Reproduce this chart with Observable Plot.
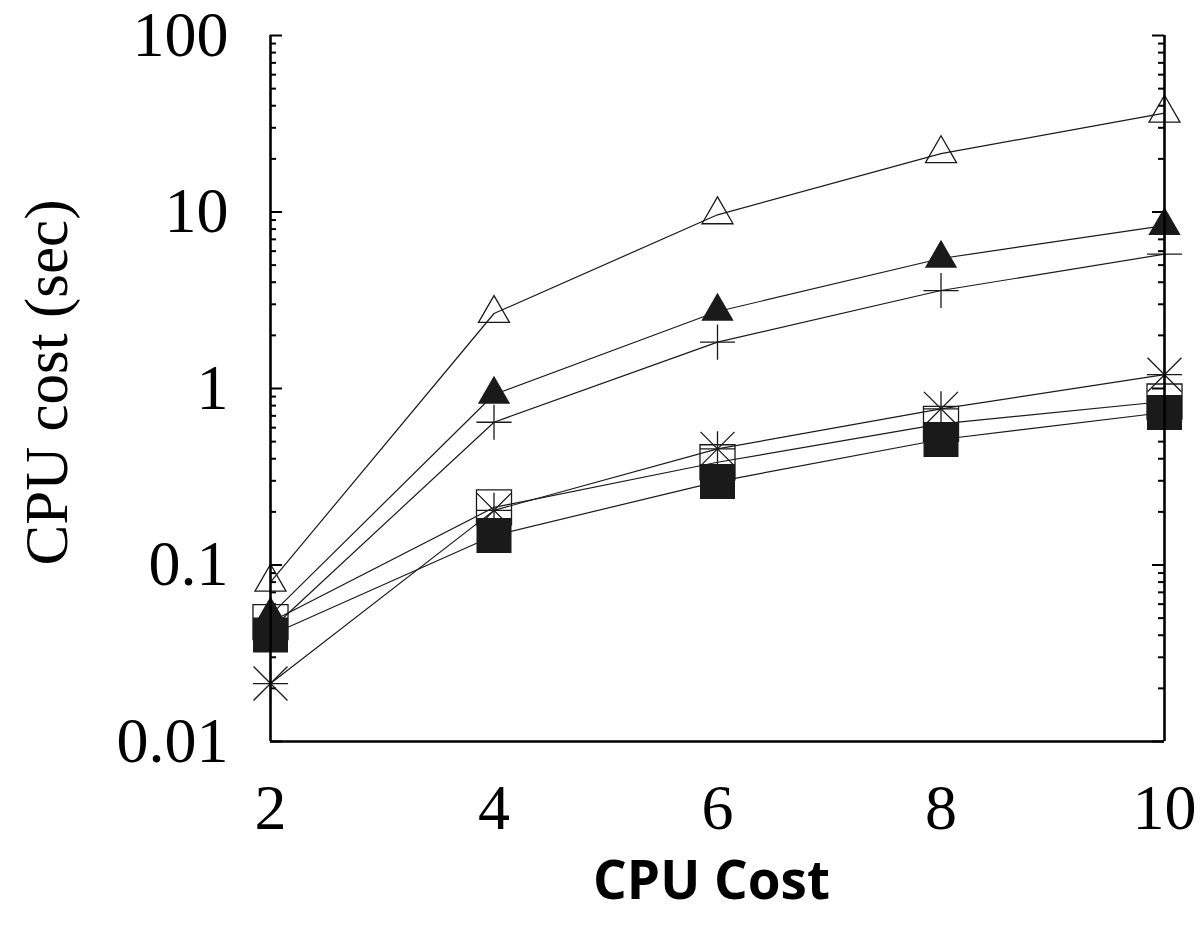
<!DOCTYPE html>
<html><head><meta charset="utf-8">
<script src="https://cdn.jsdelivr.net/npm/d3@7"></script>
<script src="https://cdn.jsdelivr.net/npm/@observablehq/plot@0.6"></script>
<style>html,body{margin:0;padding:0;background:#fff;}</style>
</head><body><div id="chart"></div>
<script>
// ---- data ----
const xValues = [2, 4, 6, 8, 10];
const openTriangle   = [0.080, 2.66, 9.64, 21.4, 36.3];
const filledTriangle = [0.052, 0.925, 2.73, 5.45, 8.38];
const plusSeries     = [0.043, 0.644, 1.83, 3.59, 5.77];
const starSeries     = [0.0213, 0.204, 0.455, 0.767, 1.197];
const openSquare     = [0.0475, 0.212, 0.382, 0.63, 0.844];
const filledSquare   = [0.0401, 0.147, 0.297, 0.514, 0.731];
const yTickValues = [0.01, 0.1, 1, 10, 100];
const yTickLabels = ["0.01", "0.1", "1", "10", "100"];
const xTickLabels = ["2", "4", "6", "8", "10"];
const yAxisLabel = "CPU cost (sec)";
const xAxisLabel = "CPU Cost";

// ---- layout ----
const W = 1204, H = 940, ML = 270, MR = 40, MT = 35, MB = 199;
const PW = W - ML - MR;
const INK = "#1a1a1a";
const SERIF = "'Liberation Serif', 'Times New Roman', serif";

const minorTicks = [];
for (const dec of [0.01, 0.1, 1, 10]) for (let k = 2; k <= 9; k++) minorTicks.push(+(dec * k).toPrecision(3));

const toRows = (vals) => xValues.map((x, i) => ({x, y: vals[i]}));

const series = [
  {vals: openTriangle, dots: [{symbol: "triangle2", r: 14.8, fill: "none"}]},
  {vals: plusSeries, dots: [{symbol: "plus", r: 11.35, fill: "none"}]},
  {vals: starSeries, dots: [{symbol: "plus", r: 11.35, fill: "none"}, {symbol: "times", r: 15.5, fill: "none"}]},
  {vals: openSquare, dots: [{symbol: "square2", r: 22.3, fill: "none"}]},
  {vals: filledTriangle, dots: [{symbol: "triangle", r: 12.0, fill: INK}]},
  {vals: filledSquare, dots: [{symbol: "square", r: 19.75, fill: INK}]}
];

const seriesMarks = series.flatMap(s => {
  const rows = toRows(s.vals);
  return [
    Plot.line(rows, {x: "x", y: "y", stroke: INK, strokeWidth: 1.2}),
    ...s.dots.map(d => Plot.dot(rows, {
      x: "x", y: "y", symbol: () => d.symbol, r: d.r,
      fill: d.fill, stroke: d.fill === "none" ? INK : "none", strokeWidth: 1.3
    }))
  ];
});

const chart = Plot.plot({
  width: W, height: H,
  marginLeft: ML, marginRight: MR, marginTop: MT, marginBottom: MB,
  x: {domain: [2, 10], axis: null},
  y: {type: "log", domain: [0.01, 100], axis: null},
  symbol: {type: "identity"},
  style: {fontFamily: SERIF, background: "white", color: "black"},
  marks: [
    // inward ticks on left and right borders
    Plot.tickY(yTickValues, {y: d => d, insetRight: PW - 12, stroke: "black", strokeWidth: 2}),
    Plot.tickY(minorTicks, {y: d => d, insetRight: PW - 6, stroke: "black", strokeWidth: 2}),
    Plot.tickY(yTickValues, {y: d => d, insetLeft: PW - 12, stroke: "black", strokeWidth: 2}),
    Plot.tickY(minorTicks, {y: d => d, insetLeft: PW - 6, stroke: "black", strokeWidth: 2}),
    // tick labels
    Plot.axisY(yTickValues, {tickSize: 0, tickPadding: 42, fontSize: 64, fontFamily: SERIF, label: null,
      tickFormat: d => yTickLabels[yTickValues.indexOf(d)]}),
    Plot.axisX(xValues, {tickSize: 0, tickPadding: 42, fontSize: 64, fontFamily: SERIF, label: null,
      tickFormat: d => xTickLabels[xValues.indexOf(d)]}),
    // axis titles
    Plot.text([yAxisLabel], {text: d => d, frameAnchor: "left", dx: -223, dy: -6, rotate: -90,
      fontFamily: SERIF, fontSize: 61, textAnchor: "middle", lineAnchor: "middle"}),
    Plot.text([xAxisLabel], {text: d => d, frameAnchor: "bottom", dx: -6, dy: 141,
      fontFamily: "'Open Sans', sans-serif", fontWeight: 700, fontSize: 53, textAnchor: "middle", lineAnchor: "middle"}),
    ...seriesMarks,
    // border: left, right, bottom (no top)
    Plot.ruleX([2, 10], {stroke: "black", strokeWidth: 2.6}),
    Plot.ruleY([0.01], {stroke: "black", strokeWidth: 2.6})
  ]
});
document.getElementById("chart").appendChild(chart);
</script>
</body></html>
